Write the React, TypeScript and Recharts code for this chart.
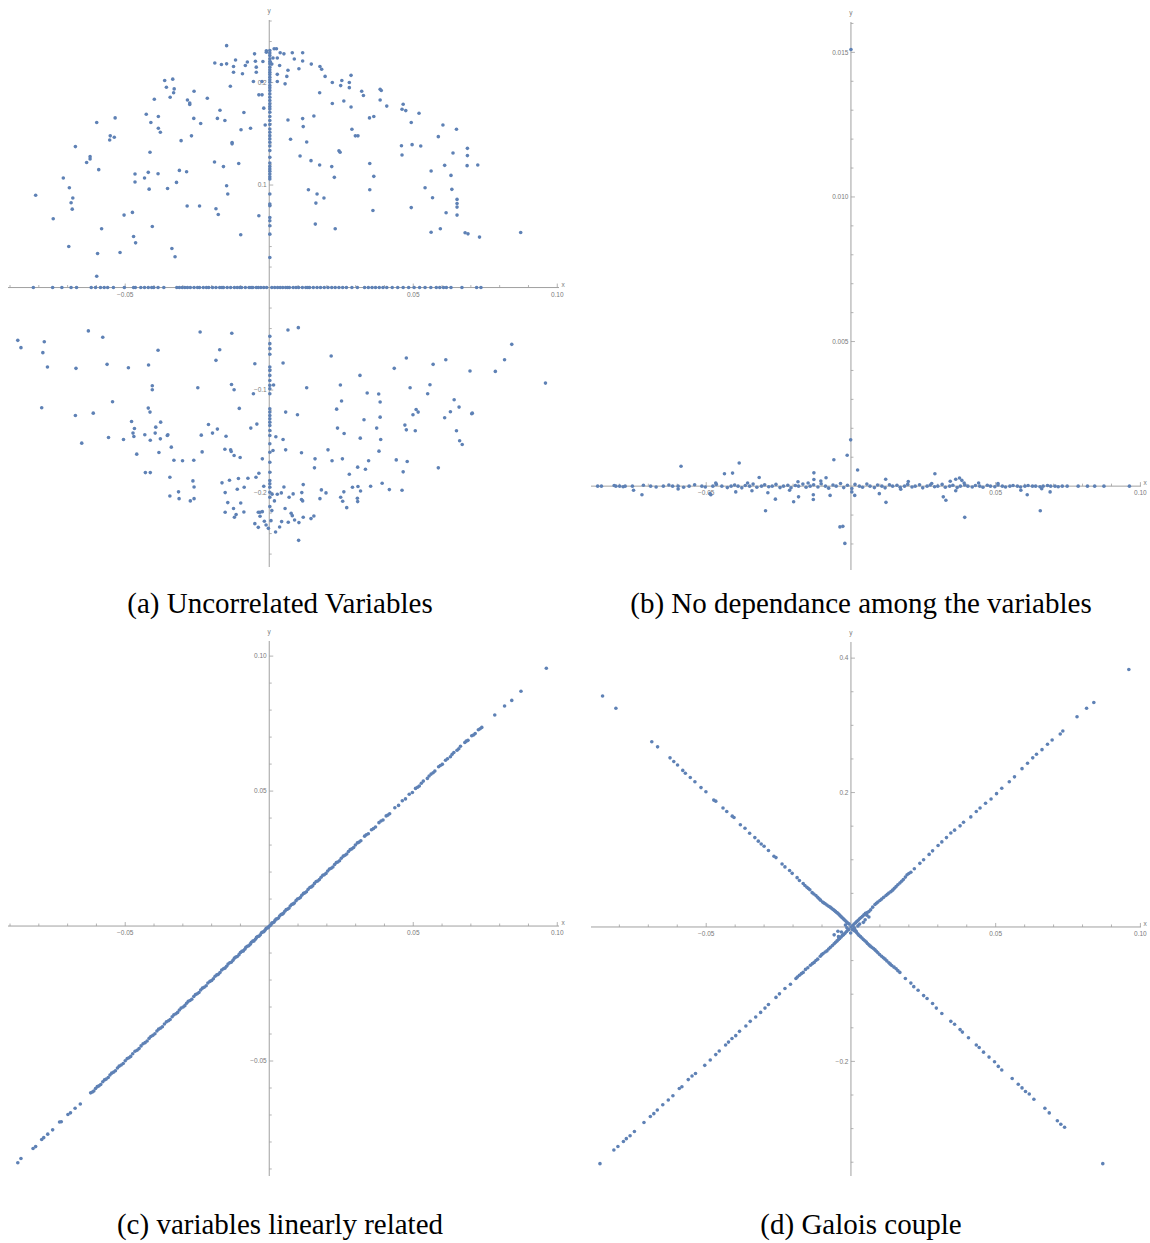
import React from "react";
import { ScatterChart, Scatter, XAxis, YAxis, ReferenceLine, ReferenceDot } from "recharts";

type Pt = [number, number];

const POINT = "#5E81B5";
const AXIS = "#a0a0a0";
const LABEL = "#7a7a7a";

// ---------- (a) Uncorrelated Variables ----------
const aCloud: Pt[] = [
  [-0.0148,0.236],[-0.001,0.231],[-0.001,0.2296],[0.0017,0.233],[0.0025,0.233],[-0.0051,0.228],[0.0038,0.229],[0.0051,0.228],
  [0.008,0.229],[0.0116,0.229],[0.0028,0.224],[0.0013,0.224],[0.0087,0.223],[0.0116,0.221],[-0.0189,0.219],[-0.0166,0.2176],
  [-0.0148,0.2182],[-0.0117,0.222],[-0.0076,0.22],[-0.0083,0.2166],[-0.0048,0.2208],[-0.0022,0.2205],[0.0004,0.22],[0.0009,0.218],
  [-0.0045,0.215],[-0.0124,0.2156],[-0.0124,0.21],[-0.0093,0.2085],[-0.0045,0.21],[0.0036,0.2166],[0.0028,0.208],[0.0065,0.212],
  [0.0103,0.2134],[0.0146,0.218],[0.0176,0.2156],[0.0182,0.213],[0.0194,0.206],[0.0061,0.206],[0.0284,0.207],[0.0219,0.2],
  [0.0252,0.202],[0.0278,0.2],[0.0248,0.197],[0.0278,0.195],[0.0028,0.201],[0.0055,0.1987],[-0.0055,0.201],[-0.0025,0.201],
  [-0.0363,0.202],[-0.0335,0.2033],[-0.0357,0.1954],[-0.033,0.1938],[-0.0332,0.19],[-0.0261,0.1915],[-0.0344,0.1857],[-0.0399,0.1837],
  [-0.0215,0.1847],[-0.0284,0.183],[-0.0276,0.18],[-0.0276,0.1785],[-0.0135,0.1964],[-0.0036,0.188],[-0.0025,0.188],[-0.0019,0.175],
  [-0.0171,0.173],[-0.0088,0.1707],[-0.0427,0.169],[-0.0385,0.1668],[-0.0535,0.1655],[-0.0599,0.161],[-0.0411,0.161],[-0.0262,0.165],
  [-0.018,0.165],[-0.0154,0.163],[-0.0238,0.16],[-0.0385,0.1554],[-0.0378,0.1515],[-0.0065,0.1554],[-0.0098,0.154],[-0.0014,0.1586],
  [-0.0552,0.148],[-0.0554,0.144],[-0.0538,0.1466],[-0.0306,0.1433],[-0.027,0.148],[-0.0129,0.1414],[-0.0129,0.1402],[-0.0673,0.1375],
  [-0.0414,0.132],[-0.0622,0.1277],[-0.0622,0.1254],[-0.0634,0.122],[-0.0592,0.115],[-0.019,0.1225],[-0.0159,0.118],[-0.0106,0.121],
  [-0.0312,0.1143],[-0.0287,0.113],[-0.0466,0.1107],[-0.0466,0.103],[-0.0433,0.1068],[-0.042,0.1124],[-0.0386,0.111],[-0.0715,0.1068],
  [-0.0694,0.0974],[-0.0682,0.0873],[-0.0688,0.0827],[-0.0684,0.0765],[-0.0811,0.09],[-0.0417,0.096],[-0.0353,0.0967],[-0.0322,0.1026],
  [-0.0148,0.0993],[-0.0144,0.0912],[-0.0285,0.0795],[-0.0242,0.0795],[-0.0185,0.0769],[-0.0177,0.0713],[-0.075,0.0671],[-0.0504,0.0707],
  [-0.0475,0.0733],[-0.0582,0.0573],[-0.0406,0.0596],[-0.0099,0.0515],[-0.0036,0.07],[-0.0471,0.0498],[-0.0464,0.0436],[-0.0696,0.04],
  [-0.0596,0.0332],[-0.0518,0.0342],[-0.0338,0.0381],[-0.0327,0.03],[-0.0599,0.0111],
  [0.0065,0.1635],[0.0116,0.1648],[0.0118,0.157],[0.0155,0.1674],[0.0074,0.1446],[0.013,0.142],[0.0175,0.19],[0.0219,0.1795],
  [0.0259,0.182],[0.0284,0.1762],[0.0287,0.1544],[0.0299,0.148],[0.0308,0.148],[0.0321,0.1915],[0.0327,0.1873],[0.0385,0.1935],
  [0.0389,0.1922],[0.0385,0.183],[0.0408,0.177],[0.0348,0.1655],[0.0363,0.1668],[0.0465,0.1788],[0.0461,0.174],[0.0474,0.1726],
  [0.052,0.17],[0.0493,0.161],[0.0603,0.1586],[0.065,0.1544],[0.0587,0.1472],[0.0459,0.1384],[0.0461,0.1293],[0.0496,0.1394],
  [0.0526,0.1381],[0.0688,0.1358],[0.0688,0.1287],[0.0638,0.1313],[0.0609,0.1192],[0.0687,0.1189],[0.0724,0.1195],[0.0562,0.1137],
  [0.0631,0.1094],[0.0541,0.0974],[0.0567,0.0876],[0.0634,0.0958],[0.0652,0.086],[0.0652,0.082],[0.0652,0.0785],[0.0652,0.0707],
  [0.0614,0.073],[0.0493,0.078],[0.0562,0.054],[0.0594,0.0573],[0.068,0.0534],[0.069,0.0524],[0.073,0.0492],[0.0873,0.0537],
  [0.0242,0.1335],[0.0246,0.132],[0.0349,0.121],[0.0363,0.1085],[0.0349,0.0954],[0.036,0.0752],[0.0217,0.118],[0.0226,0.1075],
  [0.0175,0.1195],[0.0145,0.1238],[0.0107,0.1283],[0.0136,0.0954],[0.0166,0.0912],[0.0162,0.0824],[0.019,0.0873],[0.016,0.0619],
  [0.0229,0.0573],
  [-0.0873,-0.0515],[-0.0862,-0.0586],[-0.0781,-0.0528],[-0.0786,-0.0635],[-0.077,-0.0775],[-0.0628,-0.0423],[-0.0578,-0.0485],[-0.0671,-0.0788],
  [-0.0563,-0.0749],[-0.0489,-0.0782],[-0.0419,-0.0756],[-0.0386,-0.0612],[-0.0406,-0.0958],[-0.0406,-0.0997],[-0.0544,-0.1114],[-0.079,-0.1173],
  [-0.0673,-0.1248],[-0.0611,-0.1225],[-0.042,-0.1176],[-0.0414,-0.1215],[-0.0651,-0.1518],[-0.0558,-0.1463],[-0.0506,-0.1482],[-0.0478,-0.1306],
  [-0.0468,-0.1375],[-0.0473,-0.142],[-0.047,-0.1453],[-0.0432,-0.1436],[-0.0413,-0.1489],[-0.0394,-0.1362],[-0.0396,-0.142],[-0.0377,-0.1313],
  [-0.0378,-0.1476],[-0.0354,-0.1443],[-0.0352,-0.1437],[-0.046,-0.1625],[-0.0383,-0.1609],[-0.034,-0.1557],[-0.0331,-0.1684],[-0.0301,-0.169],
  [-0.0262,-0.1684],[-0.043,-0.1805],[-0.0413,-0.1805],[-0.0345,-0.185],[-0.0265,-0.1886],[-0.0261,-0.1945],[-0.0345,-0.2033],[-0.0315,-0.1993],
  [-0.0313,-0.2059],[-0.0274,-0.2081],[-0.0261,-0.2059],[-0.024,-0.0433],[-0.013,-0.0446],[-0.0172,-0.0606],[-0.0185,-0.071],[-0.005,-0.0743],
  [-0.0248,-0.0977],[-0.0131,-0.0945],[-0.0122,-0.0997],[-0.0055,-0.1036],[-0.0104,-0.1179],[-0.0211,-0.1336],[-0.0197,-0.142],[-0.018,-0.1381],
  [-0.0236,-0.144],[-0.0233,-0.1603],[-0.015,-0.145],[-0.0064,-0.1371],[-0.0043,-0.1332],[-0.0154,-0.1577],[-0.0134,-0.1583],[-0.0132,-0.16],
  [-0.0122,-0.1638],[-0.0101,-0.1658],[-0.0024,-0.1671],[-0.0164,-0.1905],[-0.0138,-0.188],[-0.0107,-0.1863],[-0.0153,-0.2],[-0.0111,-0.1967],
  [-0.0087,-0.1948],[-0.0074,-0.186],[-0.0046,-0.185],[-0.0036,-0.1811],[-0.0019,-0.1938],[-0.0144,-0.2098],[-0.0099,-0.2101],[-0.0124,-0.2156],
  [-0.0115,-0.2215],[-0.0121,-0.2241],[-0.0153,-0.2192],[-0.0088,-0.2189],[-0.0038,-0.2192],[-0.0032,-0.2192],[-0.0024,-0.2186],[-0.0032,-0.2231],
  [-0.0017,-0.228],[-0.0011,-0.2316],[-0.005,-0.2303],[-0.0038,-0.2339],[-0.0003,-0.2349],[0.0006,-0.2274],[0.0022,-0.2384],[0.0009,-0.2176],
  [0.0018,-0.2081],[0.0036,-0.2336],[0.0043,-0.2283],[0.0055,-0.2156],[0.0066,-0.229],[0.0088,-0.2267],[0.0076,-0.2202],[0.008,-0.2225],
  [0.0103,-0.2293],[0.0102,-0.2466],[0.0118,-0.2241],[0.0145,-0.2254],[0.0155,-0.2228],[0.0116,-0.2081],[0.0112,-0.2068],[0.0069,-0.2046],
  [0.0083,-0.2013],[0.0042,-0.2003],[0.0028,-0.2016],[0.001,-0.2016],[0.0051,-0.1945],[0.0113,-0.2],[0.0118,-0.1922],[0.0176,-0.2059],
  [0.0181,-0.1974],[0.0197,-0.2003],[0.0248,-0.2046],[0.0255,-0.2085],[0.0259,-0.1993],[0.0269,-0.2147],[0.0278,-0.1821],[0.0289,-0.1948],
  [0.0308,-0.1941],[0.0306,-0.2055],[0.0307,-0.2088],[0.0317,-0.1984],[0.0352,-0.1938],[0.0392,-0.1909],[0.0417,-0.1971],[0.0461,-0.1977],
  [0.0465,-0.1798],[0.0307,-0.1752],[0.0334,-0.1772],[0.0345,-0.169],[0.0254,-0.1671],[0.0218,-0.169],[0.0204,-0.1583],[0.0159,-0.1671],
  [0.0157,-0.1759],[0.0112,-0.1612],[0.0057,-0.1583],[0.0013,-0.159],[0.0048,-0.1482],[0.0023,-0.1456],[0.026,-0.1423],[0.0237,-0.1371],
  [0.0316,-0.1469],[0.0381,-0.1596],[0.0387,-0.1482],[0.0373,-0.1371],[0.0385,-0.1264],[0.0329,-0.129],[0.0441,-0.1681],[0.0479,-0.1697],
  [0.0587,-0.1759],[0.0507,-0.1397],[0.0471,-0.1342],[0.0476,-0.1388],[0.0499,-0.1241],[0.051,-0.1189],[0.0517,-0.1215],[0.0609,-0.127],
  [0.0629,-0.1212],[0.0642,-0.1094],[0.0659,-0.1166],[0.065,-0.1397],[0.0661,-0.1495],[0.067,-0.1531],[0.0703,-0.1231],[0.0705,-0.1225],
  [0.055,-0.1036],[0.0558,-0.0948],[0.0489,-0.0977],[0.0434,-0.0788],[0.0476,-0.0687],[0.0569,-0.0749],[0.0613,-0.0704],[0.0697,-0.0814],
  [0.0785,-0.0818],[0.0817,-0.0704],[0.0842,-0.0554],[0.0959,-0.0932],[0.038,-0.1039],[0.0385,-0.1117],[0.034,-0.1029],[0.0315,-0.0857],
  [0.0247,-0.0951],[0.0251,-0.1107],[0.0234,-0.1186],[0.0215,-0.0668],[0.013,-0.0977],[0.0057,-0.1215],[0.0098,-0.1241],[0.0048,-0.0736],
  [0.0015,-0.0951],[0.0065,-0.0414],[0.0101,-0.0391],
];

// points lying on the x axis (y = 0)
const aOnXAxis: number[] = [
  -0.0819,-0.0752,-0.072,-0.0688,-0.0669,-0.0618,-0.0603,-0.0586,-0.0573,-0.0561,-0.0541,-0.0503,-0.0471,-0.0465,-0.0446,-0.0433,
  -0.042,-0.0408,-0.0401,-0.0386,-0.0366,-0.0321,-0.0312,-0.0302,-0.0293,-0.0284,-0.0274,-0.0261,-0.0249,-0.0242,-0.0229,-0.0218,
  -0.021,-0.0197,-0.0185,-0.0172,-0.0164,-0.0159,-0.0146,-0.0134,-0.0121,-0.0111,-0.0102,-0.0096,-0.0083,-0.007,-0.0063,-0.0057,
  -0.0045,-0.0038,-0.0029,-0.0019,-0.0009,0.0009,0.0019,0.0029,0.0038,0.0047,0.0057,0.0064,0.007,0.0083,0.0093,0.0102,0.0115,0.0127,
  0.0134,0.014,0.0153,0.0166,0.0178,0.0191,0.0204,0.0217,0.0229,0.0242,0.0255,0.0268,0.0287,0.0306,0.0331,0.0344,0.0357,0.0369,
  0.0382,0.0395,0.0408,0.0427,0.0446,0.0465,0.0484,0.0503,0.0522,0.0541,0.0561,0.058,0.0592,0.0605,0.0615,0.0631,0.0669,0.072,0.0735,
];

// points lying on the y axis (x = 0)
const aOnYAxis: number[] = [
  0.2313,0.2287,0.2264,0.2231,0.2205,0.2182,0.215,0.2124,0.2101,0.2078,0.2052,0.2026,0.2003,0.1971,0.1948,0.1922,0.1889,0.1857,
  0.1824,0.1792,0.1765,0.1743,0.171,0.1668,0.1629,0.159,0.1547,0.1515,0.1482,0.145,0.1417,0.1381,0.1336,0.127,0.1215,0.1182,0.1156,
  0.1134,0.1107,0.1081,0.1059,0.0912,0.0814,0.0798,0.0684,0.0651,0.0603,0.0521,0.0293,
  -0.0476,-0.0547,-0.0596,-0.0651,-0.0775,-0.0808,-0.0857,-0.0906,-0.0954,-0.0987,-0.1036,-0.1182,-0.1215,-0.1248,-0.128,-0.1313,
  -0.1345,-0.1394,-0.1443,-0.1524,-0.1606,-0.1704,-0.1801,-0.1883,-0.1915,-0.1948,-0.1997,-0.2046,-0.2137,
];

const aXMinor = [-0.09,-0.08,-0.07,-0.06,-0.04,-0.03,-0.02,-0.01,0.01,0.02,0.03,0.04,0.06,0.07,0.08,0.09];
const aXMajor = [-0.05,0.05,0.1];
const aXLabels = ["−0.05","0.05","0.10"];
const aYMinor = [-0.26,-0.24,-0.22,-0.18,-0.16,-0.14,-0.12,-0.08,-0.06,-0.04,-0.02,0.02,0.04,0.06,0.08,0.12,0.14,0.16,0.18,0.22,0.24,0.26];
const aYMajor = [-0.2,-0.1,0.1,0.2];
const aYLabels = ["−0.2","−0.1","0.1","0.2"];

// ---------- (b) No dependance among the variables ----------
const bOffAxis: Pt[] = [
  [0,0.0151],[-0.0587,0.00069],[-0.0386,0.0008],[-0.0437,0.00043],[-0.0409,0.00045],[-0.0317,0.0003],[-0.0357,0.00011],[-0.0467,0.00011],
  [-0.0059,0.00091],[-0.0013,0.00107],[-0.0001,0.0016],[0.0023,0.00056],[-0.0086,0.00029],[-0.0128,0.00046],[-0.0128,0.00023],
  [-0.0104,0.00018],[-0.0183,0.00015],[-0.0148,0.00011],[0.012,0.00024],[0.0198,0.00016],[0.029,0.00043],[0.0279,0.00009],
  [0.0343,0.00017],[0.0362,0.00024],[0.0375,0.00028],[0.0383,0.0002],[0.0391,0.00011],[0.0441,0.00011],[0.0508,0.00009],
  [-0.0751,-0.00014],[-0.0722,-0.0003],[-0.0597,-0.0001],[-0.0484,-0.0003],[-0.0487,-0.00026],[-0.0398,-0.0002],[-0.0342,-0.00016],
  [-0.0287,-0.00023],[-0.0261,-0.00045],[-0.0295,-0.00085],[-0.0212,-0.00014],[-0.0198,-0.00054],[-0.0181,-0.00037],[-0.013,-0.0003],
  [-0.013,-0.00046],[-0.0072,-0.00032],[-0.0038,-0.00141],[-0.0028,-0.00139],[-0.0021,-0.00198],[0.0003,-0.0002],[0.0013,-0.00032],
  [0.0098,-0.00026],[0.0121,-0.00056],[0.0172,-0.00011],[0.0319,-0.00037],[0.0328,-0.00049],[0.0362,-0.00016],[0.0393,-0.00108],
  [0.0587,-0.00014],[0.0609,-0.0003],[0.0654,-0.00085],[0.0659,-0.00009],[0.0688,-0.0002],
];

const bOnAxis: Pt[] = [
  [-0.0875,0],[-0.0862,0],[-0.0818,0.00002],[-0.0812,0],[-0.0799,0],[-0.0787,-0.00002],[-0.078,0],[-0.0755,0],[-0.0717,0.00003],
  [-0.0692,0],[-0.0673,-0.00003],[-0.0648,0],[-0.0629,0.00004],[-0.0616,0],[-0.0597,0],[-0.0578,-0.00004],[-0.0559,0],[-0.054,0.00005],
  [-0.0515,0],[-0.0503,-0.00003],[-0.0477,0],[-0.0465,0.00006],[-0.0446,0],[-0.0427,-0.00005],[-0.0414,0],[-0.0402,0.00004],[-0.039,0],
  [-0.0377,-0.00006],[-0.0365,0.00002],[-0.035,0],[-0.0338,0.00007],[-0.0325,-0.00004],[-0.0309,0],[-0.0298,0.00005],[-0.0284,-0.00002],
  [-0.0272,0],[-0.0259,0.00006],[-0.0245,-0.00005],[-0.0233,0],[-0.0218,0.00003],[-0.0207,-0.00006],[-0.0192,0.00002],[-0.0181,0],
  [-0.0166,0.00007],[-0.0155,-0.00004],[-0.0141,0],[-0.0129,0.00005],[-0.0114,-0.00003],[-0.0103,0.00008],[-0.0088,0],[-0.0077,-0.00007],
  [-0.0062,0.00004],[-0.0051,0],[-0.0036,0.00009],[-0.0025,-0.00005],[-0.0012,0.00003],[0.0003,-0.00008],[0.0014,0.00006],[0.0029,0],
  [0.004,-0.00004],[0.0055,0.00007],[0.0066,0],[0.0081,-0.00005],[0.0092,0.00004],[0.0107,0],[0.0118,-0.00006],[0.0133,0.00005],
  [0.0144,0],[0.0159,0.00003],[0.017,-0.00004],[0.0185,0],[0.0196,0.00006],[0.0211,-0.00003],[0.0222,0],[0.0237,0.00005],
  [0.0248,-0.00006],[0.0263,0],[0.0274,0.00004],[0.0289,-0.00002],[0.03,0],[0.0315,0.00006],[0.0326,-0.00004],[0.0341,0],
  [0.0352,0.00003],[0.0367,-0.00005],[0.0378,0],[0.0393,0.00004],[0.0404,0],[0.0419,-0.00003],[0.043,0.00002],[0.0445,0],
  [0.0456,-0.00004],[0.0471,0.00003],[0.0482,0],[0.0497,-0.00002],[0.0508,0.00004],[0.0523,0],[0.0534,-0.00003],[0.0549,0],
  [0.056,0.00002],[0.0575,0],[0.0586,-0.00003],[0.0601,0],[0.0612,0.00002],[0.0627,0],[0.0638,0],[0.0653,-0.00002],[0.0664,0],
  [0.0679,0.00002],[0.069,0],[0.0705,0],[0.0716,-0.00002],[0.073,0],[0.0747,0],[0.0785,0],[0.0817,0],[0.0842,0],[0.0874,0],[0.0962,0],
];

const bXMinor = [-0.08,-0.07,-0.06,-0.04,-0.03,-0.02,-0.01,0.01,0.02,0.03,0.04,0.06,0.07,0.08,0.09];
const bXMajor = [-0.05,0.05,0.1];
const bXLabels = ["−0.05","0.05","0.10"];
const bYMinor = [-0.002,-0.001,0.001,0.002,0.003,0.004,0.006,0.007,0.008,0.009,0.011,0.012,0.013,0.014,0.016];
const bYMajor = [0.005,0.01,0.015];
const bYLabels = ["0.005","0.010","0.015"];

// ---------- (c) variables linearly related ----------
const cPoints: Pt[] = [
  [0.0962,0.0955],[0.0874,0.087],[0.0842,0.0836],[0.0817,0.0815],[0.0783,0.0782],
  [0.0738,0.0736],[0.0726,0.0727],[0.0715,0.0713],[0.0703,0.0705],[0.069,0.0688],[0.0679,0.068],[0.0664,0.0666],[0.0652,0.0651],
  [0.0641,0.0643],[0.0629,0.0627],[0.0612,0.0614],[0.0601,0.0599],[0.0588,0.059],[0.0575,0.0574],[0.0562,0.0563],[0.0549,0.0547],
  [0.0535,0.0537],[0.0521,0.0519],[0.0508,0.051],[0.0497,0.0495],[0.0486,0.0488],[0.0473,0.0471],[0.0462,0.0464],[0.0449,0.0447],
  [0.0436,0.0438],[0.0418,0.0416],[0.0406,0.0408],[0.0395,0.0393],[0.0381,0.0383],[0.0369,0.0367],[0.0355,0.0357],[0.0344,0.0342],
  [0.0331,0.0333],[0.0318,0.0316],[0.0306,0.0308],[0.0293,0.0291],[0.0281,0.0283],[0.0269,0.0267],[0.0257,0.0259],[0.0244,0.0242],
  [0.0233,0.0235],[0.0221,0.0219],[0.0209,0.0211],[0.0197,0.0195],[0.0186,0.0188],[0.0174,0.0172],[0.0163,0.0165],[0.0151,0.0149],
  [0.0141,0.0143],[0.0129,0.0127],[0.0119,0.0121],[0.0108,0.0106],[0.0098,0.01],[0.0087,0.0085],[0.0078,0.008],[0.0068,0.0066],
  [0.0059,0.0061],[0.0049,0.0047],[0.0041,0.0043],[0.0032,0.003],[0.0024,0.0026],[0.0016,0.0014],[0.0009,0.0011],[0.0003,0.0002],
  [-0.0004,-0.0006],[-0.0011,-0.0009],[-0.0019,-0.0021],[-0.0027,-0.0025],[-0.0036,-0.0038],[-0.0044,-0.0042],[-0.0053,-0.0055],
  [-0.0062,-0.006],[-0.0071,-0.0073],[-0.0081,-0.0079],[-0.009,-0.0092],[-0.01,-0.0098],[-0.0111,-0.0113],[-0.0121,-0.0119],
  [-0.0132,-0.0134],[-0.0143,-0.0141],[-0.0154,-0.0156],[-0.0165,-0.0163],[-0.0177,-0.0179],[-0.0188,-0.0186],[-0.02,-0.0202],
  [-0.0213,-0.0211],[-0.0219,-0.0221],[-0.0232,-0.023],[-0.0244,-0.0246],[-0.0256,-0.0254],[-0.0269,-0.0271],[-0.0281,-0.0279],
  [-0.0293,-0.0295],[-0.0306,-0.0304],[-0.0318,-0.032],[-0.0331,-0.0329],[-0.0344,-0.0346],[-0.0357,-0.0355],[-0.0371,-0.0373],
  [-0.0384,-0.0382],[-0.0397,-0.0399],[-0.0411,-0.0409],[-0.0424,-0.0426],[-0.0438,-0.0436],[-0.0452,-0.0454],[-0.0466,-0.0464],
  [-0.0481,-0.0483],[-0.0493,-0.0491],[-0.0507,-0.0509],[-0.0521,-0.0519],[-0.0534,-0.0536],[-0.0547,-0.0545],[-0.0559,-0.0561],
  [-0.0572,-0.057],[-0.0585,-0.0587],[-0.0597,-0.0595],[-0.0609,-0.0611],[-0.062,-0.0618],
  [-0.0656,-0.0659],[-0.0674,-0.0675],[-0.069,-0.0692],[-0.0699,-0.0698],[-0.0722,-0.0725],[-0.0728,-0.0726],[-0.0752,-0.0755],
  [-0.0769,-0.0771],[-0.0783,-0.0784],[-0.079,-0.0791],[-0.0811,-0.0817],[-0.082,-0.0824],[-0.0862,-0.0861],[-0.0873,-0.0877],
];

// extra points that make the dense part of the line look solid
const cDense: Pt[] = [
  [0.0732,0.0731],[0.0709,0.0708],[0.0684,0.0685],[0.0658,0.0657],[0.0635,0.0636],[0.0619,0.062],[0.0594,0.0595],[0.0569,0.0568],
  [0.0555,0.0556],[0.0528,0.0529],[0.0515,0.0514],[0.0412,0.0411],[0.0388,0.0389],[0.0362,0.0361],[0.0337,0.0338],[0.0312,0.0311],
  [0.0299,0.03],[0.0287,0.0286],[0.0275,0.0276],[0.0263,0.0262],[0.025,0.0251],[0.0238,0.0237],[0.0227,0.0228],[0.0215,0.0214],
  [0.0203,0.0204],[0.0191,0.019],[0.018,0.0181],[0.0168,0.0167],[0.0157,0.0158],[0.0146,0.0145],[0.0135,0.0136],[0.0124,0.0123],
  [0.0113,0.0114],[0.0103,0.0102],[0.0093,0.0094],[0.0083,0.0082],[0.0073,0.0074],[0.0063,0.0062],[0.0054,0.0055],[0.0045,0.0044],
  [0.0036,0.0037],[0.0028,0.0027],[0.002,0.0021],[0.0012,0.0012],[0.0006,0.0005],[-0.0001,-0.0002],[-0.0008,-0.0007],[-0.0015,-0.0016],
  [-0.0023,-0.0022],[-0.0031,-0.0032],[-0.004,-0.0039],[-0.0048,-0.0049],[-0.0057,-0.0056],[-0.0066,-0.0067],[-0.0076,-0.0075],
  [-0.0085,-0.0086],[-0.0095,-0.0094],[-0.0105,-0.0106],[-0.0116,-0.0115],[-0.0126,-0.0127],[-0.0137,-0.0136],[-0.0148,-0.0149],
  [-0.0159,-0.0158],[-0.0171,-0.0172],[-0.0182,-0.0181],[-0.0194,-0.0195],[-0.0206,-0.0205],[-0.0226,-0.0227],[-0.0238,-0.0237],
  [-0.025,-0.0251],[-0.0262,-0.0261],[-0.0275,-0.0276],[-0.0287,-0.0286],[-0.0299,-0.03],[-0.0312,-0.0311],[-0.0324,-0.0325],
  [-0.0337,-0.0336],[-0.035,-0.0351],[-0.0364,-0.0363],[-0.0377,-0.0378],[-0.039,-0.0389],[-0.0404,-0.0405],[-0.0417,-0.0416],
  [-0.0431,-0.0432],[-0.0445,-0.0444],[-0.0459,-0.046],[-0.0474,-0.0473],[-0.0487,-0.0488],[-0.05,-0.0499],[-0.0514,-0.0515],
  [-0.0527,-0.0526],[-0.054,-0.0541],[-0.0553,-0.0552],[-0.0566,-0.0567],[-0.0578,-0.0577],[-0.0591,-0.0592],[-0.0603,-0.0602],
  [-0.0614,-0.0615],
];

const cXMinor = [-0.09,-0.08,-0.07,-0.06,-0.04,-0.03,-0.02,-0.01,0.01,0.02,0.03,0.04,0.06,0.07,0.08,0.09];
const cXMajor = [-0.05,0.05,0.1];
const cXLabels = ["−0.05","0.05","0.10"];
const cYMinor = [-0.09,-0.08,-0.07,-0.06,-0.04,-0.03,-0.02,-0.01,0.01,0.02,0.03,0.04,0.06,0.07,0.08,0.09];
const cYMajor = [-0.05,0.05,0.1];
const cYLabels = ["−0.05","0.05","0.10"];

// ---------- (d) Galois couple ----------
const dFalling: Pt[] = [
  [-0.0858,0.3436],[-0.0812,0.3255],[-0.0688,0.2755],[-0.0668,0.268],[-0.0625,0.2516],[-0.0612,0.2463],[-0.0599,0.241],[-0.0581,0.233],
  [-0.0572,0.2287],[-0.0555,0.2223],[-0.0539,0.216],[-0.0518,0.2074],[-0.0501,0.2011],[-0.0474,0.1888],[-0.0467,0.1872],[-0.0442,0.1771],
  [-0.0429,0.1718],[-0.041,0.1649],[-0.0404,0.1628],[-0.0382,0.1521],[-0.0366,0.1468],[-0.035,0.1394],[-0.0332,0.133],[-0.032,0.1277],
  [-0.031,0.1234],[-0.03,0.1202],[-0.0285,0.1138],[-0.0266,0.1053],[-0.0259,0.1032],[-0.0238,0.0936],[-0.0228,0.0894],[-0.0212,0.084],
  [-0.0203,0.0798],[-0.0186,0.0734],[-0.0178,0.0691],[-0.0159,0.0617],[-0.0152,0.059],[-0.0142,0.0553],[-0.0134,0.0511],[-0.0121,0.0468],
  [-0.0115,0.0441],[-0.0105,0.0399],[-0.0098,0.0372],[-0.0089,0.0346],[-0.0077,0.0309],[-0.0068,0.0282],[-0.006,0.0255],[-0.0053,0.0229],
  [-0.0045,0.0202],[-0.0038,0.017],[-0.003,0.0138],[-0.0023,0.0106],[-0.0014,0.0069],[-0.0006,0.0043],
  [0.0005,-0.0037],[0.0015,-0.0064],[0.0024,-0.0106],[0.0033,-0.0144],[0.0043,-0.0186],[0.0053,-0.0223],[0.0062,-0.0266],[0.0072,-0.0303],
  [0.0083,-0.034],[0.0093,-0.0383],[0.0106,-0.0436],[0.0118,-0.0479],[0.0131,-0.0532],[0.0141,-0.0574],[0.0156,-0.0622],[0.0169,-0.0676],
  [0.0188,-0.0766],[0.0207,-0.0835],[0.0217,-0.0888],[0.0232,-0.0941],[0.0251,-0.1021],[0.0263,-0.1064],[0.0282,-0.1138],[0.0295,-0.1207],
  [0.0314,-0.1287],[0.0345,-0.1404],[0.0358,-0.1447],[0.0377,-0.1527],[0.0385,-0.1564],[0.0406,-0.1649],[0.0433,-0.1755],[0.0443,-0.1793],
  [0.0458,-0.1862],[0.0477,-0.1936],[0.0496,-0.2005],[0.0509,-0.2074],[0.0521,-0.2128],[0.0557,-0.2255],[0.0578,-0.234],[0.0591,-0.2394],
  [0.0603,-0.2447],[0.0616,-0.2484],[0.0632,-0.2564],[0.067,-0.2697],[0.0685,-0.2766],[0.0713,-0.2883],[0.0725,-0.2936],[0.0738,-0.2979],
  [0.087,-0.3521],
  [-0.0165,0.0648],[-0.0147,0.0572],[-0.0128,0.049],[-0.011,0.042],[-0.0094,0.0359],[-0.0083,0.0327],[-0.0072,0.0296],[-0.0064,0.0268],
  [-0.0056,0.0242],[-0.0049,0.0215],[-0.0041,0.0186],[-0.0034,0.0154],[-0.0026,0.0122],[-0.0018,0.0088],[-0.001,0.0056],[0.001,-0.005],
  [0.002,-0.0085],[0.0028,-0.0125],[0.0038,-0.0165],[0.0048,-0.0205],[0.0057,-0.0245],[0.0067,-0.0285],[0.0078,-0.0322],[0.0088,-0.0362],
  [0.0099,-0.041],[0.0112,-0.0458],[0.0124,-0.0505],[0.0136,-0.0553],[0.0149,-0.0598],[0.0162,-0.065],
];

const dRising: Pt[] = [
  [-0.0867,-0.3521],[-0.0819,-0.3319],[-0.0805,-0.3266],[-0.0786,-0.3191],[-0.0776,-0.3149],[-0.0763,-0.3106],[-0.0748,-0.3043],
  [-0.0715,-0.291],[-0.0693,-0.2819],[-0.0681,-0.2777],[-0.0669,-0.2723],[-0.065,-0.2644],[-0.0631,-0.2574],[-0.0615,-0.2511],
  [-0.0593,-0.2404],[-0.0584,-0.2378],[-0.0562,-0.2271],[-0.0549,-0.2218],[-0.0537,-0.2181],[-0.0505,-0.2059],[-0.0486,-0.1979],
  [-0.0467,-0.1899],[-0.0455,-0.1846],[-0.0433,-0.1755],[-0.0423,-0.1713],[-0.0411,-0.166],[-0.0398,-0.1617],[-0.0385,-0.1553],
  [-0.0363,-0.1473],[-0.0348,-0.1404],[-0.0329,-0.134],[-0.0312,-0.1271],[-0.0297,-0.1207],[-0.0285,-0.1154],[-0.0259,-0.1048],
  [-0.0247,-0.0995],[-0.0228,-0.0915],[-0.0209,-0.0851],[-0.019,-0.0766],[-0.0178,-0.0718],[-0.0165,-0.0676],[-0.0149,-0.0606],
  [-0.014,-0.0569],[-0.0127,-0.0527],[-0.0115,-0.0479],[-0.0106,-0.0436],[-0.0096,-0.0394],[-0.0083,-0.0356],[-0.0071,-0.0303],
  [-0.0058,-0.025],[-0.0048,-0.0207],[-0.0039,-0.017],[-0.003,-0.0128],[-0.002,-0.0091],[-0.001,-0.0043],
  [0.0011,0.0043],[0.002,0.008],[0.003,0.0122],[0.004,0.016],[0.005,0.0202],[0.0062,0.0229],[0.0068,0.0255],[0.0083,0.0335],
  [0.0093,0.0372],[0.0106,0.0415],[0.0121,0.0468],[0.0131,0.0505],[0.0144,0.0548],[0.0156,0.0601],[0.0169,0.0654],[0.0181,0.0707],
  [0.0194,0.0777],[0.0207,0.0814],[0.0219,0.0867],[0.0238,0.0947],[0.0251,0.1],[0.027,0.108],[0.0282,0.1133],[0.0301,0.1213],
  [0.0314,0.1266],[0.033,0.133],[0.0345,0.1399],[0.0358,0.1441],[0.0377,0.1505],[0.0389,0.1559],[0.0414,0.1638],[0.0433,0.1718],
  [0.0446,0.1771],[0.0465,0.184],[0.0484,0.1904],[0.0503,0.1984],[0.0521,0.2064],[0.0547,0.216],[0.0565,0.2234],[0.0591,0.2356],
  [0.061,0.2436],[0.0628,0.2516],[0.0641,0.2569],[0.066,0.2638],[0.0679,0.2718],[0.0695,0.2782],[0.0723,0.2872],[0.0732,0.2915],
  [0.0781,0.3128],[0.0814,0.3255],[0.0839,0.334],[0.096,0.383],
  [-0.0185,-0.0745],[-0.0171,-0.0694],[-0.0157,-0.0631],[-0.0133,-0.0545],[-0.0121,-0.0498],[-0.0101,-0.0412],[-0.0089,-0.0372],
  [-0.0077,-0.0328],[-0.0064,-0.0276],[-0.0053,-0.0229],[-0.0043,-0.0188],[-0.0034,-0.0148],[-0.0025,-0.011],[-0.0015,-0.0067],
  [0.0016,0.0062],[0.0025,0.0101],[0.0035,0.0141],[0.0045,0.0181],[0.0056,0.0216],[0.0075,0.0295],[0.0088,0.0352],[0.01,0.0393],
  [0.0113,0.0441],[0.0126,0.0487],[0.0138,0.0526],[0.015,0.0575],[0.0162,0.0628],[0.0175,0.068],[0.0188,0.0742],[0.02,0.0795],
];

const dCenter: Pt[] = [
  [-0.0045,-0.0064],[-0.0033,-0.0074],[-0.0014,-0.0011],[0.0011,-0.0011],[0.0018,-0.0064],[-0.0026,-0.0117],[-0.0001,-0.009],
  [0.0024,0.0016],[-0.0008,-0.0037],[0.003,0.0043],[0.0043,0.0069],[0.0049,0.0106],[-0.0058,-0.0117],[-0.0043,-0.0144],
  [0.0055,0.0176],[0.0062,0.0149],[0,0],[0.0006,0.0021],[-0.0019,0.0028],[0.0013,-0.0032],
];

const dXMinor = [-0.08,-0.07,-0.06,-0.04,-0.03,-0.02,-0.01,0.01,0.02,0.03,0.04,0.06,0.07,0.08,0.09];
const dXMajor = [-0.05,0.05,0.1];
const dXLabels = ["−0.05","0.05","0.10"];
const dYMinor = [-0.35,-0.3,-0.25,-0.15,-0.1,-0.05,0.05,0.1,0.15,0.25,0.3,0.35];
const dYMajor = [-0.2,0.2,0.4];
const dYLabels = ["−0.2","0.2","0.4"];

const toPts = (arr: Pt[]) => arr.map(([x, y]) => ({ x, y }));

const dot = (p: any) => <circle cx={p.cx} cy={p.cy} r={1.8} fill={POINT} />;

const FONT = "'Liberation Sans', Arial, sans-serif";

const xTick = (len: number, label?: string) => (p: any) => (
  <g>
    <line x1={p.cx} x2={p.cx} y1={p.cy} y2={p.cy - len} stroke={AXIS} strokeWidth={0.8} />
    {label && (
      <text x={p.cx} y={p.cy + 9} textAnchor="middle" fontSize={6.5} fontFamily={FONT} fill={LABEL}>
        {label}
      </text>
    )}
  </g>
);

const yTick = (len: number, label?: string) => (p: any) => (
  <g>
    <line x1={p.cx} x2={p.cx + len} y1={p.cy} y2={p.cy} stroke={AXIS} strokeWidth={0.8} />
    {label && (
      <text x={p.cx - 2.5} y={p.cy + 2.3} textAnchor="end" fontSize={6.5} fontFamily={FONT} fill={LABEL}>
        {label}
      </text>
    )}
  </g>
);

const axisName = (name: string, dx: number, dy: number) => (p: any) => (
  <text x={p.cx + dx} y={p.cy + dy} textAnchor="middle" fontSize={6.5} fontFamily={FONT} fill={LABEL}>
    {name}
  </text>
);

interface PanelProps {
  left: number;
  top: number;
  width: number;
  height: number;
  xDomain: [number, number];
  yDomain: [number, number];
  xMinor: number[];
  xMajor: number[];
  xLabels: string[];
  yMinor: number[];
  yMajor: number[];
  yLabels: string[];
  series: { x: number; y: number }[][];
}

function Panel(p: PanelProps) {
  const m = { top: 16, right: 14, bottom: 6, left: 14 };
  return (
    <div style={{ position: "absolute", left: p.left - m.left, top: p.top - m.top }}>
      <ScatterChart width={p.width + m.left + m.right} height={p.height + m.top + m.bottom} margin={m}>
        <XAxis type="number" dataKey="x" domain={p.xDomain} allowDataOverflow hide />
        <YAxis type="number" dataKey="y" domain={p.yDomain} allowDataOverflow hide />
        <ReferenceLine y={0} stroke={AXIS} strokeWidth={1} />
        <ReferenceLine x={0} stroke={AXIS} strokeWidth={1} />
        {p.xMinor.map((v) => (
          <ReferenceDot key={"xm" + v} x={v} y={0} ifOverflow="visible" shape={xTick(2.5)} />
        ))}
        {p.xMajor.map((v, i) => (
          <ReferenceDot key={"xM" + v} x={v} y={0} ifOverflow="visible" shape={xTick(4, p.xLabels[i])} />
        ))}
        {p.yMinor.map((v) => (
          <ReferenceDot key={"ym" + v} x={0} y={v} ifOverflow="visible" shape={yTick(2.5)} />
        ))}
        {p.yMajor.map((v, i) => (
          <ReferenceDot key={"yM" + v} x={0} y={v} ifOverflow="visible" shape={yTick(4, p.yLabels[i])} />
        ))}
        <ReferenceDot x={p.xDomain[1]} y={0} ifOverflow="visible" shape={axisName("x", 4, -1)} />
        <ReferenceDot x={0} y={p.yDomain[1]} ifOverflow="visible" shape={axisName("y", 0, -7)} />
        {p.series.map((d, i) => (
          <Scatter key={i} data={d} isAnimationActive={false} shape={dot} />
        ))}
      </ScatterChart>
    </div>
  );
}

const captionStyle = (cx: number, cy: number): React.CSSProperties => ({
  position: "absolute",
  left: cx - 280,
  width: 560,
  top: cy - 17,
  lineHeight: "34px",
  textAlign: "center",
  fontFamily: "'Liberation Serif', 'Times New Roman', serif",
  fontSize: 29,
  color: "#000",
  whiteSpace: "nowrap",
});

export default function App() {
  return (
    <div style={{ position: "absolute", left: 0, top: 0, width: 1150, height: 1243, background: "#fff" }}>
      <Panel
        left={8} top={20} width={551} height={547}
        xDomain={[-0.0907, 0.1006]} yDomain={[-0.2726, 0.261]}
        xMinor={aXMinor} xMajor={aXMajor} xLabels={aXLabels}
        yMinor={aYMinor} yMajor={aYMajor} yLabels={aYLabels}
        series={[toPts(aCloud), aOnXAxis.map((x) => ({ x, y: 0 })), aOnYAxis.map((y) => ({ x: 0.0002, y }))]}
      />
      <Panel
        left={591} top={22} width={550} height={548}
        xDomain={[-0.0898, 0.1002]} yDomain={[-0.0029, 0.01605]}
        xMinor={bXMinor} xMajor={bXMajor} xLabels={bXLabels}
        yMinor={bYMinor} yMajor={bYMajor} yLabels={bYLabels}
        series={[toPts(bOnAxis), toPts(bOffAxis)]}
      />
      <Panel
        left={8} top={641} width={551} height={535}
        xDomain={[-0.0907, 0.1006]} yDomain={[-0.0926, 0.1056]}
        xMinor={cXMinor} xMajor={cXMajor} xLabels={cXLabels}
        yMinor={cYMinor} yMajor={cYMajor} yLabels={cYLabels}
        series={[toPts(cPoints), toPts(cDense)]}
      />
      <Panel
        left={591} top={642} width={550} height={534}
        xDomain={[-0.0898, 0.1002]} yDomain={[-0.3705, 0.424]}
        xMinor={dXMinor} xMajor={dXMajor} xLabels={dXLabels}
        yMinor={dYMinor} yMajor={dYMajor} yLabels={dYLabels}
        series={[toPts(dFalling), toPts(dRising), toPts(dCenter)]}
      />
      <div style={captionStyle(280, 603)}>(a) Uncorrelated Variables</div>
      <div style={captionStyle(861, 603)}>(b) No dependance among the variables</div>
      <div style={captionStyle(280, 1224)}>(c) variables linearly related</div>
      <div style={captionStyle(861, 1224)}>(d) Galois couple</div>
    </div>
  );
}
